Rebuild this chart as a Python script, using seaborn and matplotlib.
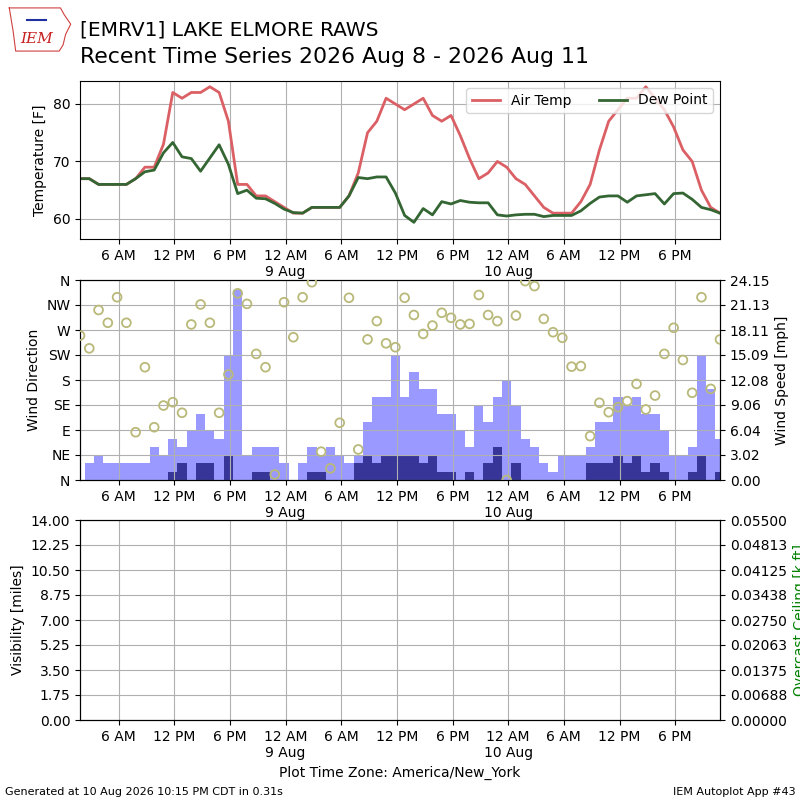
import numpy as np
import pandas as pd
import matplotlib
matplotlib.use("Agg")
import matplotlib.pyplot as plt
import matplotlib.dates as mdates
from matplotlib.ticker import FuncFormatter
import seaborn as sns

# hourly observations, local time America/New_York
first_obs = "2026-08-08 01:50"

air_temp = [67, 67, 66, 66, 66, 66, 67, 69, 69, 73, 82, 81, 82, 82, 83, 82, 77, 66,
            66, 64, 64, 63, 62, 61, 61, 62, 62, 62, 62, 64, 68, 75, 77, 81, 80, 79,
            80, 81, 78, 77, 78, 74.5, 70.5, 67, 68, 70, 69, 67, 66, 64, 62, 61, 61,
            61, 63, 66, 72, 77, 79, 81, 81, 83, 81, 79, 76, 72, 70, 65, 62, 61]
dew_point = [67, 67, 66, 66, 66, 66, 67, 68.2, 68.5, 71.5, 73.3, 70.8, 70.5, 68.3,
             70.6, 72.9, 69.5, 64.4, 65, 63.6, 63.5, 62.7, 61.7, 61.1, 61, 62, 62,
             62, 62, 64, 67.2, 67, 67.3, 67.3, 64.5, 60.6, 59.4, 61.8, 60.7, 63,
             62.6, 63.2, 62.9, 62.8, 62.8, 60.7, 60.5, 60.7, 60.8, 60.8, 60.4, 60.6,
             60.6, 60.6, 61.4, 62.7, 63.8, 64, 64, 62.9, 64, 64.2, 64.4, 62.6, 64.4,
             64.5, 63.4, 62, 61.6, 61]
wind_dir = [260, 237, 306, 283, 329, 283, 86, 203, 95, 134, 140, 121, 280, 316, 283,
            121, 190, 336, 317, 227, 203, 10, 320, 257, 329, 356, 51, 21, 103, 328,
            55, 253, 286, 246, 239, 328, 297, 263, 278, 301, 292, 280, 281, 333, 297,
            286, 0, 296, 358, 349, 290, 266, 256, 204, 205, 79, 139, 122, 131, 142,
            173, 127, 152, 227, 274, 216, 157, 329, 164, 253]
wind_gust = [0, 2, 3, 2, 2, 2, 2, 2, 4, 3, 5, 4, 6, 8, 6, 5, 15, 23, 3, 4, 4, 4, 2, 0,
             2, 4, 3, 4, 3, 2, 3, 7, 10, 10, 15, 10, 13, 11, 11, 8, 8, 6, 4, 9, 7, 10,
             12, 9, 5, 4, 2, 1, 3, 3, 3, 4, 7, 7, 10, 9, 10, 8, 8, 6, 3, 3, 4, 15, 11, 5]
wind_speed = [0, 0, 0, 0, 0, 0, 0, 0, 0, 0, 1, 2, 0, 2, 2, 0, 3, 0, 0, 1, 1, 0, 0, 0,
              0, 1, 1, 0, 0, 0, 2, 3, 2, 3, 3, 3, 3, 2, 3, 1, 1, 0, 1, 0, 2, 4, 0, 2,
              0, 0, 0, 0, 0, 0, 0, 2, 2, 2, 3, 2, 3, 1, 2, 1, 0, 0, 1, 3, 0, 1]

dir_labels = ["N", "NE", "E", "SE", "S", "SW", "W", "NW", "N"]

times = pd.date_range(first_obs, periods=len(air_temp), freq="h")
df = pd.DataFrame({"valid": times, "tmpf": air_temp, "dwpf": dew_point,
                   "drct": wind_dir, "gust": wind_gust, "sped": wind_speed})


def fmt_time(x, pos):
    dt = mdates.num2date(x)
    if dt.hour == 0:
        return "12 AM\n%d %s" % (dt.day, dt.strftime("%b"))
    return dt.strftime("%-I %p")


def setup_time(ax):
    ax.xaxis.set_major_locator(mdates.HourLocator(byhour=[0, 6, 12, 18]))
    ax.xaxis.set_major_formatter(FuncFormatter(fmt_time))
    ax.set_xlim(times[0], times[-1])
    ax.grid(True, color="#b0b0b0", lw=0.8)
    ax.set_xlabel("")


fig = plt.figure(figsize=(8, 8), dpi=100)
ax1 = fig.add_axes([0.1, 0.70125, 0.8, 0.1975])
ax2 = fig.add_axes([0.1, 0.40, 0.8, 0.25])
ax3 = fig.add_axes([0.1, 0.10, 0.8, 0.25])

# temperature panel
sns.lineplot(data=df, x="valid", y="tmpf", ax=ax1, color="#db6065", lw=2,
             label="Air Temp")
sns.lineplot(data=df, x="valid", y="dwpf", ax=ax1, color="#346633", lw=2,
             label="Dew Point")
setup_time(ax1)
ax1.set_ylim(56.5, 84)
ax1.set_yticks([60, 70, 80])
ax1.set_ylabel("Temperature [F]")
ax1.legend(loc="upper right", ncol=2)

# wind panel
ax2b = ax2.twinx()
ax2b.bar(df["valid"], df["gust"], width=1 / 24.0, color="#9999ff")
ax2b.bar(df["valid"], df["sped"], width=1 / 24.0, color="#373698")
ax2b.set_ylim(0, 24.15)
ax2b.set_yticks(np.linspace(0, 24.15, 9))
ax2b.yaxis.set_major_formatter(FuncFormatter(lambda v, p: "%.2f" % (v + 1e-9)))
ax2b.set_ylabel("Wind Speed [mph]")

sns.scatterplot(data=df, x="valid", y="drct", ax=ax2, color="#b9b97a",
                facecolor="none", edgecolor="#b9b97a", s=40, linewidth=1.3,
                zorder=5)
ax2.set_zorder(ax2b.get_zorder() + 1)
ax2.patch.set_visible(False)
ax2.set_ylim(0, 360)
ax2.set_yticks(range(0, 361, 45))
ax2.set_yticklabels(dir_labels)
ax2.set_ylabel("Wind Direction")
setup_time(ax2)

# visibility / ceiling panel (no data)
ax3b = ax3.twinx()
ax3.set_ylim(0, 14)
ax3.set_yticks(np.linspace(0, 14, 9))
ax3.yaxis.set_major_formatter(FuncFormatter(lambda v, p: "%.2f" % v))
ax3.set_ylabel("Visibility [miles]")
ax3b.set_ylim(0, 0.055)
ax3b.set_yticks(np.linspace(0, 0.055, 9))
ax3b.yaxis.set_major_formatter(FuncFormatter(lambda v, p: "%.5f" % (v + 1e-12)))
ax3b.set_ylabel("Overcast Ceiling [k ft]", color="g")
setup_time(ax3)
ax3.set_xlabel("Plot Time Zone: America/New_York")

# title and footer
fig.text(0.1, 0.955, "[EMRV1] LAKE ELMORE RAWS", fontsize=14.5, va="baseline")
fig.text(0.1, 0.921, "Recent Time Series 2026 Aug 8 - 2026 Aug 11", fontsize=15.8,
         va="baseline")
fig.text(0.006, 0.006, "Generated at 10 Aug 2026 10:15 PM CDT in 0.31s", fontsize=8)
fig.text(0.994, 0.006, "IEM Autoplot App #43", fontsize=8, ha="right")

# small IEM logo
lax = fig.add_axes([0.01, 0.935, 0.08, 0.058])
lax.plot([0.02, 0.82, 0.88, 0.98, 0.9, 0.86, 0.8, 0.12, 0.08, 0.02],
         [0.95, 0.95, 0.8, 0.6, 0.38, 0.15, 0.02, 0.02, 0.45, 0.95],
         color="#d04040", lw=0.8)
lax.plot([0.3, 0.6], [0.68, 0.68], color="#2030a0", lw=1.5)
lax.text(0.45, 0.28, "IEM", color="#c82020", fontsize=11, style="italic",
         family="DejaVu Serif", ha="center", va="center")
lax.set_xlim(0, 1)
lax.set_ylim(0, 1)
lax.axis("off")

fig.savefig("out.png", dpi=100)
